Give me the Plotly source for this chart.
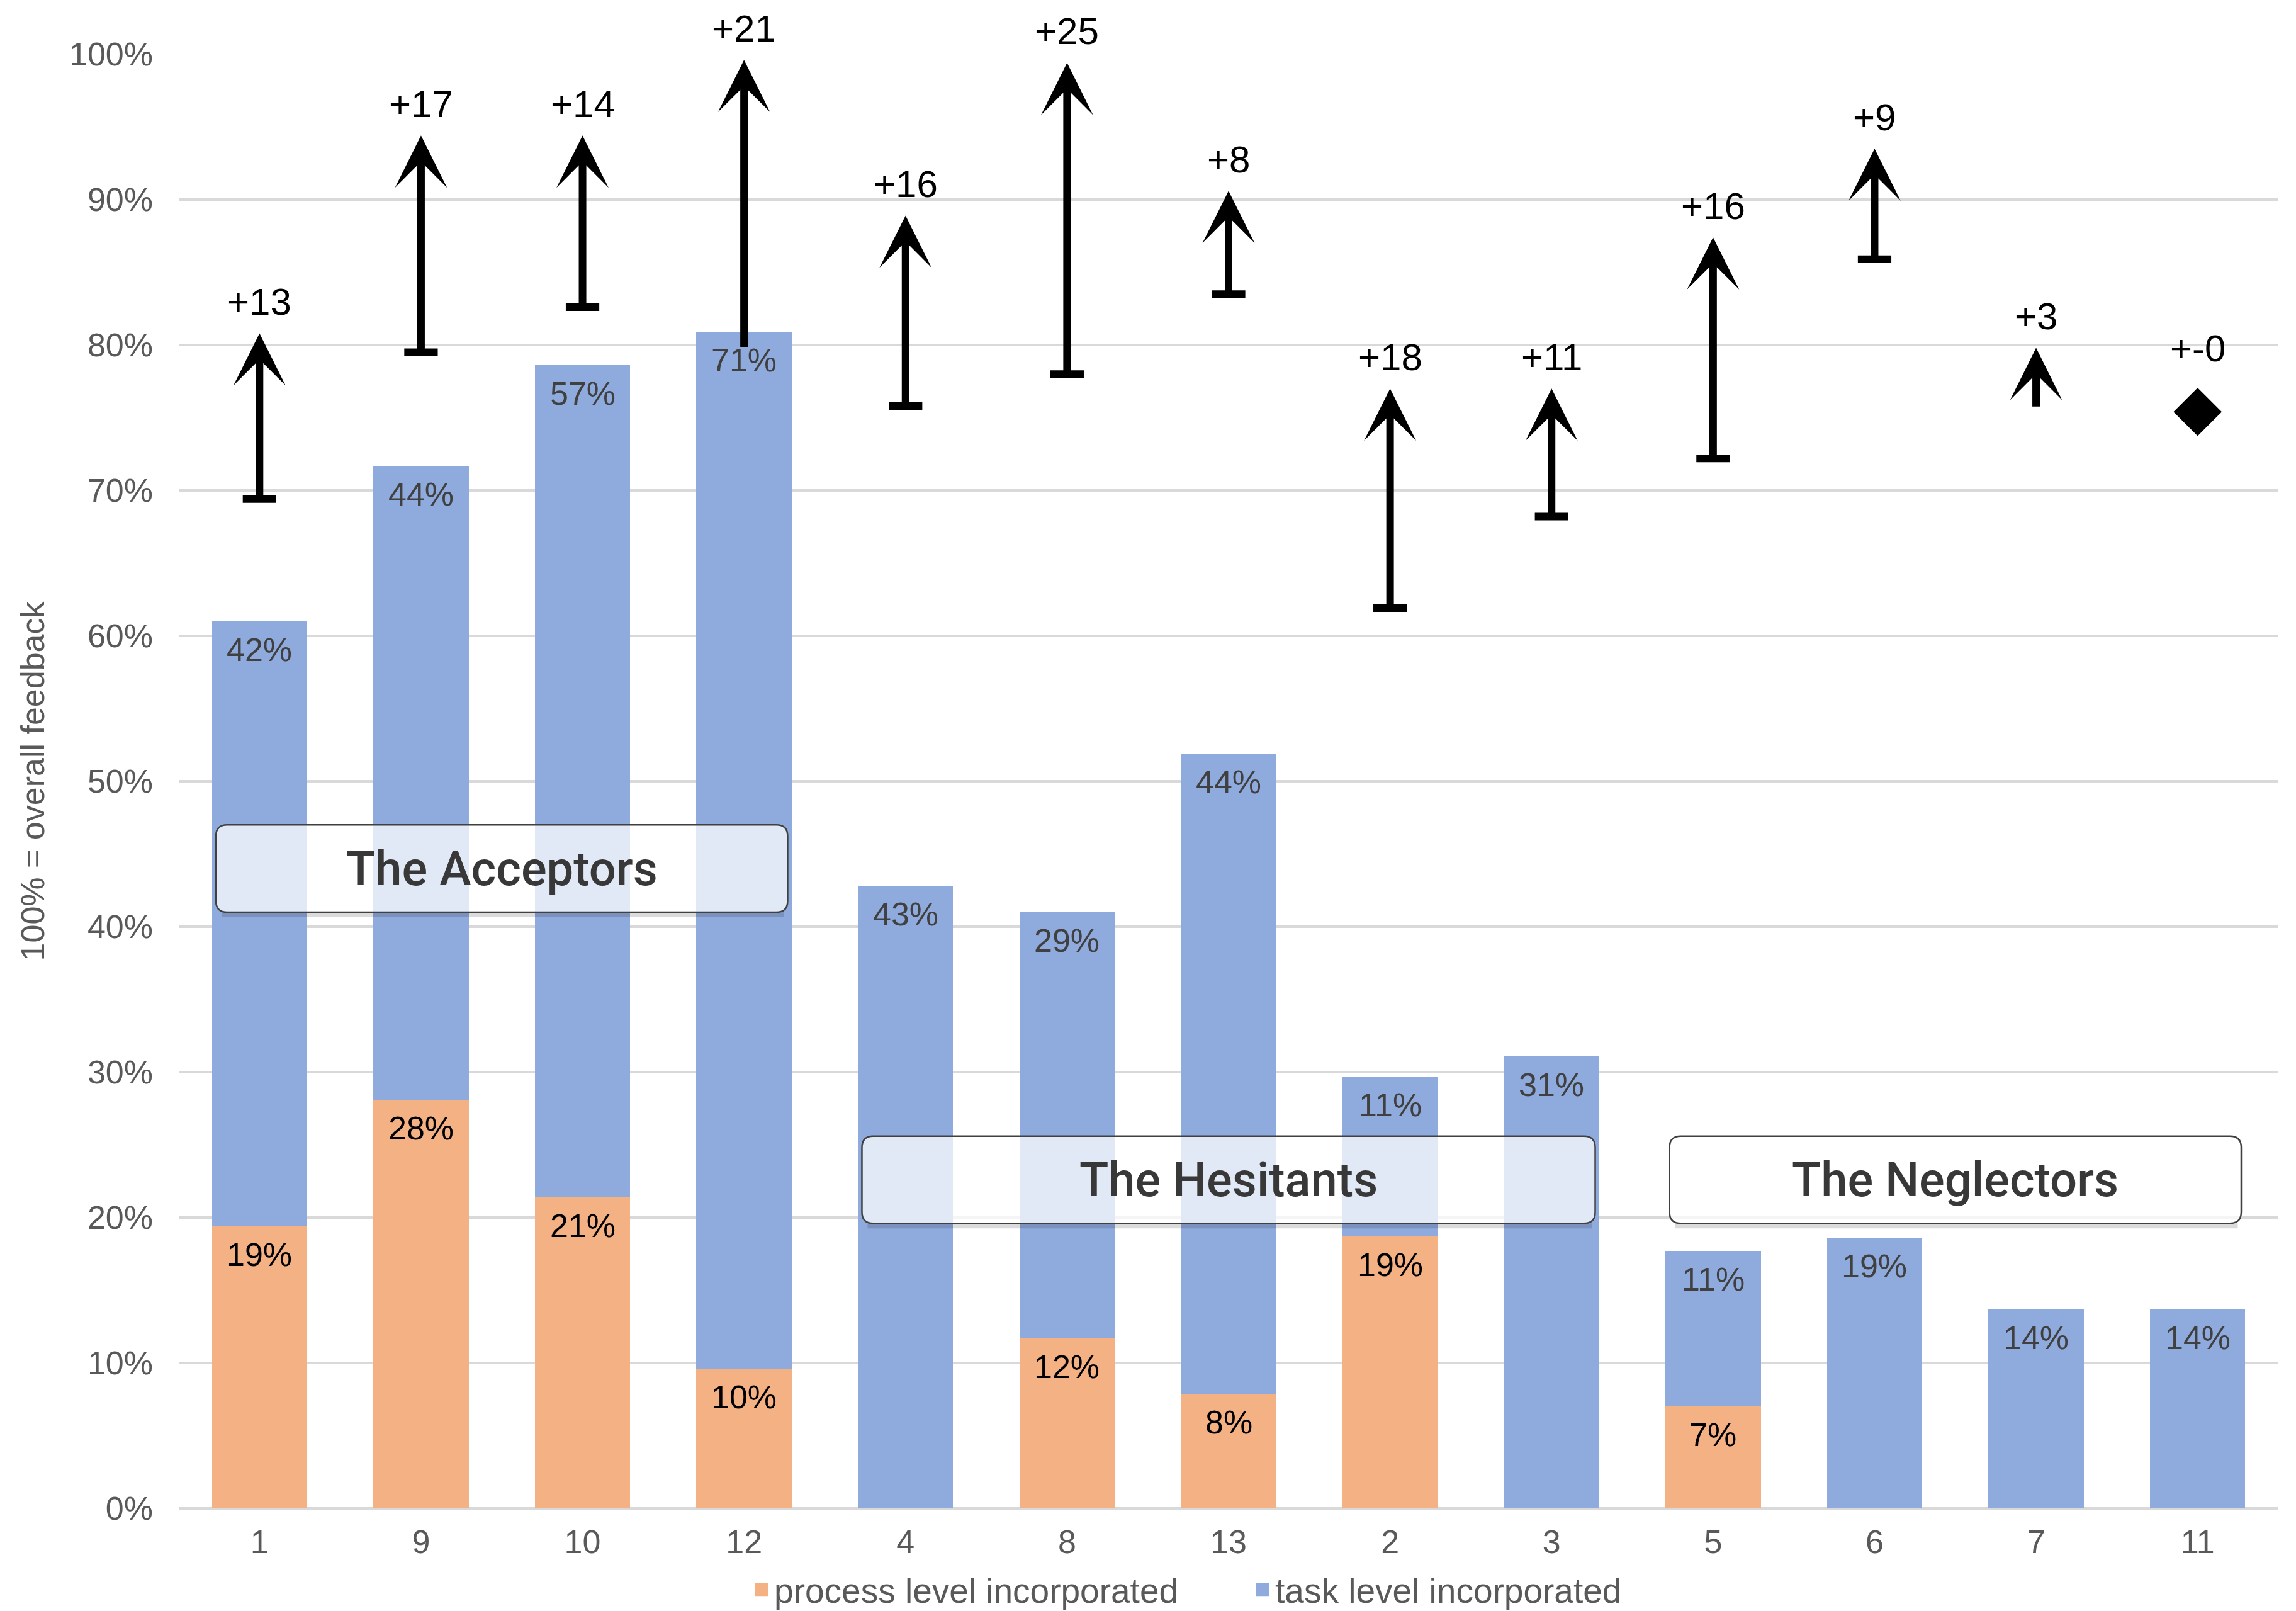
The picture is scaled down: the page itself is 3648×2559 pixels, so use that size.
import plotly.graph_objects as go

# ---------------- data ----------------
categories = ["1", "9", "10", "12", "4", "8", "13", "2", "3", "5", "6", "7", "11"]
process_level = [0.194, 0.281, 0.214, 0.096, 0.0, 0.117, 0.079, 0.187, 0.0, 0.070, 0.0, 0.0, 0.0]
task_level = [0.416, 0.436, 0.572, 0.713, 0.428, 0.293, 0.440, 0.110, 0.311, 0.107, 0.186, 0.137, 0.137]
change_before = [0.694, 0.795, 0.826, 0.798, 0.758, 0.780, 0.835, 0.619, 0.682, 0.722, 0.859, 0.757, 0.754]
change_after = [0.808, 0.944, 0.944, 0.996, 0.889, 0.994, 0.906, 0.770, 0.770, 0.874, 0.935, 0.798, 0.754]
change_labels = ["+13", "+17", "+14", "+21", "+16", "+25", "+8", "+18", "+11", "+16", "+9", "+3", "+-0"]
series_names = ["process level incorporated", "task level incorporated"]
group_names = ["The Acceptors", "The Hesitants", "The Neglectors"]
group_first = ["1", "4", "5"]
group_last = ["12", "3", "11"]

# ---------------- style ----------------
W, H = 3648, 2559
ML, MR, MT, MB = 284, 28, 86, 163
ORANGE = "#F4B183"
BLUE = "#8FAADC"
AXIS_GRAY = "#595959"
TXT_FONT = "Helvetica Neue, Liberation Sans, Arial, sans-serif"
FS = 52

n = len(categories)
xs = list(range(n))
plot_w = W - ML - MR
plot_h = H - MT - MB
px_x = n / plot_w        # data units (x) per pixel
px_y = 1.0 / plot_h      # data units (y) per pixel

fig = go.Figure()
fig.add_trace(go.Bar(x=xs, y=process_level, name=series_names[0], showlegend=False,
                     marker=dict(color=ORANGE, line=dict(width=0))))
fig.add_trace(go.Bar(x=xs, y=task_level, name=series_names[1], showlegend=False,
                     marker=dict(color=BLUE, line=dict(width=0))))
# legend entries (square swatches)
for nm, col in zip(series_names, [ORANGE, BLUE]):
    fig.add_trace(go.Scatter(x=[None], y=[None], mode="markers", name=nm,
                             marker=dict(symbol="square", size=16, color=col,
                                         line=dict(width=5, color=col))))

annotations = []
totals = [p + t for p, t in zip(process_level, task_level)]

# bar value labels
for i in xs:
    p, t = process_level[i], task_level[i]
    if p > 0:
        annotations.append(dict(x=i, y=p, xref="x", yref="y", text=f"{p*100:.0f}%",
                                showarrow=False, yanchor="top", yshift=-14,
                                font=dict(size=FS, color="#000000", family=TXT_FONT)))
    annotations.append(dict(x=i, y=p + t, xref="x", yref="y", text=f"{t*100:.0f}%",
                            showarrow=False, yanchor="top", yshift=-14,
                            font=dict(size=FS, color="#404040", family=TXT_FONT)))

# change arrows
tee_x, tee_y, dia_x, dia_y = [], [], [], []
for i in xs:
    b, a = change_before[i], change_after[i]
    if a - b <= 0:
        dia_x.append(i)
        dia_y.append(a)
        shift = 101
    else:
        annotations.append(dict(x=i, y=a, ax=i, ay=b, xref="x", yref="y", axref="x", ayref="y",
                                text="", showarrow=True, arrowhead=3, arrowsize=1.15,
                                arrowwidth=12, arrowcolor="#000000", standoff=0, startstandoff=0))
        if (a - b) >= 0.05 and b > totals[i]:
            tee_x.append(i)
            tee_y.append(b)
        shift = 50
    annotations.append(dict(x=i, y=a, xref="x", yref="y", text=change_labels[i],
                            showarrow=False, yanchor="middle", yshift=shift,
                            font=dict(size=60, color="#000000", family=TXT_FONT)))

fig.add_trace(go.Scatter(x=tee_x, y=tee_y, mode="markers", showlegend=False, hoverinfo="skip",
                         marker=dict(symbol="line-ew", size=38,
                                     line=dict(width=12, color="#000000"))))
fig.add_trace(go.Scatter(x=dia_x, y=dia_y, mode="markers", showlegend=False, hoverinfo="skip",
                         marker=dict(symbol="diamond", size=59, color="#000000",
                                     line=dict(width=0))))

# group boxes
box_y = [(0.410, 0.470), (0.196, 0.256), (0.196, 0.256)]
rx = 18 * px_x
ry = 18 * px_y


def rounded(x0, x1, y0, y1):
    return (f"M{x0+rx},{y0} L{x1-rx},{y0} Q{x1},{y0} {x1},{y0+ry} "
            f"L{x1},{y1-ry} Q{x1},{y1} {x1-rx},{y1} L{x0+rx},{y1} "
            f"Q{x0},{y1} {x0},{y1-ry} L{x0},{y0+ry} Q{x0},{y0} {x0+rx},{y0} Z")


shapes = []
for name, first, last, (y0, y1) in zip(group_names, group_first, group_last, box_y):
    x0 = categories.index(first) - 0.27
    x1 = categories.index(last) + 0.27
    shapes.append(dict(type="line", xref="x", yref="y", layer="above",
                       x0=x0 + rx * 0.5, x1=x1 - rx * 0.3, y0=y0 - 4 * px_y, y1=y0 - 4 * px_y,
                       line=dict(color="rgba(0,0,0,0.14)", width=8)))
    shapes.append(dict(type="path", xref="x", yref="y", layer="above",
                       path=rounded(x0, x1, y0, y1),
                       fillcolor="rgba(255,255,255,0.74)",
                       line=dict(color="#404040", width=2.5)))
    annotations.append(dict(x=(x0 + x1) / 2, y=(y0 + y1) / 2, xref="x", yref="y",
                            text=name, showarrow=False, xanchor="center", yanchor="middle",
                            font=dict(size=76, color="#383838", family="Roboto, sans-serif",
                                      weight=500)))

fig.update_layout(
    width=W, height=H,
    margin=dict(l=ML, r=MR, t=MT, b=MB, autoexpand=False),
    paper_bgcolor="white", plot_bgcolor="white",
    barmode="stack", bargap=0.41,
    font=dict(family=TXT_FONT, size=FS, color=AXIS_GRAY),
    xaxis=dict(range=[-0.5, n - 0.5], tickmode="array", tickvals=xs, ticktext=categories,
               showgrid=False, zeroline=False, showline=False, ticks="",
               tickfont=dict(size=FS, color=AXIS_GRAY, family=TXT_FONT),
               ticklabelstandoff=18, automargin=False),
    yaxis=dict(range=[0, 1], dtick=0.1, tick0=0, tickformat=".0%",
               showgrid=True, gridcolor="#D9D9D9", gridwidth=4,
               zeroline=True, zerolinecolor="#D9D9D9", zerolinewidth=4,
               showline=False, ticks="", automargin=False,
               tickfont=dict(size=FS, color=AXIS_GRAY, family=TXT_FONT),
               ticklabelstandoff=40,
               title=dict(text="100% = overall feedback", standoff=22,
                          font=dict(size=FS, color=AXIS_GRAY, family=TXT_FONT))),
    legend=dict(orientation="h", x=0.2716, xanchor="left", y=-0.0558, yanchor="middle",
                font=dict(size=55, color=AXIS_GRAY, family=TXT_FONT),
                itemwidth=30, entrywidth=751, entrywidthmode="pixels",
                traceorder="normal", bgcolor="rgba(0,0,0,0)"),
    annotations=annotations,
    shapes=shapes,
)

fig.write_html("out.html",
               config={"displayModeBar": False},
               post_script="document.body.style.margin='0';document.body.style.overflow='hidden';")
